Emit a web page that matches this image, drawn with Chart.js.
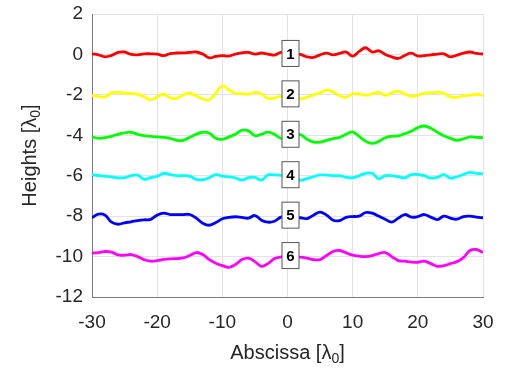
<!DOCTYPE html>
<html>
<head>
<meta charset="utf-8">
<script src="https://cdn.jsdelivr.net/npm/chart.js@4"></script>
<style>
  html, body { margin: 0; padding: 0; background: #fff; }
  #wrap { width: 506px; height: 370px; }
</style>
</head>
<body>
<div id="wrap"><canvas id="profiles"></canvas></div>
<script>
// abscissa samples, in units of lambda0
const abscissa = [];
for (let x = -30; x <= 30; x++) abscissa.push(x);

const xTicks = [-30, -20, -10, 0, 10, 20, 30];
const yTicks = [-12, -10, -8, -6, -4, -2, 0, 2];
const profileNames = ["1", "2", "3", "4", "5", "6"];
const baselines = [0, -2, -4, -6, -8, -10];

const profile1 = [0.03, -0.02, -0.12, -0.05, 0.1, 0.12, 0.0, -0.02, 0.03, 0.03, 0.02,
  -0.06, 0.04, 0.07, 0.08, 0.1, 0.12, 0.02, -0.17, -0.1, -0.06,
  -0.08, 0.02, 0.08, 0.1, 0.02, 0.07, 0.02, -0.03, 0.1, 0.05,
  0.02, 0.0, -0.12, -0.15, -0.02, 0.06, -0.02, 0.05, 0.12, -0.08,
  0.15, 0.33, 0.12, 0.18, 0.0, -0.12, -0.2, -0.05, 0.06, -0.08,
  -0.06, -0.02, 0.02, 0.03, -0.12, -0.03, 0.06, 0.12, 0.05, 0.02];

const profile2 = [-2.03, -2.08, -2.1, -1.9, -1.88, -1.91, -1.93, -1.96, -2.1, -2.25, -2.1,
  -1.97, -2.15, -2.18, -2.0, -1.92, -2.05, -2.2, -2.25, -1.9, -1.55,
  -1.75, -1.92, -1.94, -1.96, -1.88, -1.95, -2.18, -2.15, -2.08, -2.05,
  -2.05, -2.2, -2.12, -2.0, -1.9, -1.75, -1.85, -2.05, -2.12, -1.95,
  -1.95, -2.02, -1.95, -1.88, -2.03, -1.9, -1.82, -1.95, -2.08, -2.02,
  -1.92, -1.9, -1.88, -1.92, -2.1, -2.12, -2.04, -2.02, -1.97, -2.03];

const profile3 = [-4.08, -4.15, -4.12, -4.05, -3.95, -3.88, -3.85, -3.95, -4.02, -4.05, -4.08,
  -4.1, -4.15, -4.25, -4.25, -4.1, -3.95, -3.85, -3.9, -4.15, -4.2,
  -4.08, -3.95, -3.75, -3.78, -4.02, -3.95, -3.84, -3.95, -4.15, -4.1,
  -4.05, -3.97, -4.2, -4.34, -4.34, -4.25, -4.16, -4.1, -3.95, -3.83,
  -4.05, -4.3, -4.4, -4.3, -4.12, -4.05, -4.03, -3.92, -3.8, -3.62,
  -3.54, -3.65, -3.85, -4.02, -4.15, -4.25, -4.18, -4.08, -4.1, -4.12];

const profile4 = [-5.95, -5.99, -6.02, -6.06, -6.1, -6.1, -6.0, -5.97, -6.18, -6.1, -6.03,
  -5.88, -5.94, -6.0, -6.0, -6.02, -6.18, -6.2, -6.1, -5.95, -6.02,
  -6.06, -6.1, -6.22, -6.1, -6.08, -6.22, -5.96, -5.96, -5.98, -6.05,
  -6.15, -6.23, -6.14, -6.05, -5.96, -5.97, -6.0, -6.0, -6.08, -6.1,
  -6.0, -5.88, -5.88, -6.15, -6.0, -6.0, -6.05, -6.1, -5.95, -5.94,
  -6.0, -6.12, -6.08, -5.95, -6.12, -6.05, -5.94, -5.84, -5.88, -5.9];

const profile5 = [-8.08, -7.9, -7.95, -8.3, -8.4, -8.33, -8.28, -8.22, -8.18, -8.16, -7.95,
  -7.85, -7.92, -7.92, -7.92, -7.92, -8.1, -8.35, -8.45, -8.32, -8.13,
  -8.06, -8.03, -8.06, -8.1, -7.97, -8.2, -8.3, -8.25, -8.05, -8.0,
  -8.05, -8.08, -8.12, -7.95, -7.8, -7.95, -8.2, -8.22, -8.06, -8.02,
  -8.0, -7.82, -7.85, -8.0, -8.15, -8.3, -8.1, -7.92, -8.05, -8.02,
  -7.92, -8.05, -8.17, -8.0, -8.1, -8.15, -8.02, -8.0, -8.05, -8.08];

const profile6 = [-9.83, -9.8, -9.75, -9.78, -9.92, -9.93, -9.9, -10.0, -10.15, -10.23, -10.2,
  -10.14, -10.11, -10.1, -10.07, -9.95, -9.8, -9.9, -10.15, -10.33, -10.45,
  -10.53, -10.4, -10.15, -10.08, -10.25, -10.48, -10.35, -10.1, -10.02, -10.02,
  -10.03, -10.03, -10.08, -10.15, -10.15, -9.95, -9.75, -9.7, -9.82, -9.93,
  -9.98, -10.0, -9.95, -9.85, -9.8, -10.0, -10.2, -10.23, -10.27, -10.28,
  -10.23, -10.35, -10.48, -10.45, -10.35, -10.25, -10.05, -9.7, -9.65, -9.8];

const profiles = [profile1, profile2, profile3, profile4, profile5, profile6];
const colors = ["#ff0000", "#ffff00", "#00ff00", "#00ffff", "#0000ff", "#ff00ff"];

const FONT = "'Liberation Sans', Arial, sans-serif";

// draws the axis titles (with subscript) and the numbered boxes at x = 0
const annotate = {
  id: "annotate",
  afterDatasetsDraw(chart) {
    const ctx = chart.ctx;
    const xs = chart.scales.x, ys = chart.scales.y;
    ctx.save();

    baselines.forEach((b, i) => {
      const cx = xs.getPixelForValue(0) + 3;
      const cy = ys.getPixelForValue(b) - 1;
      ctx.fillStyle = "#fff";
      ctx.fillRect(cx - 8.5, cy - 13, 17, 26);
      ctx.strokeStyle = "#555";
      ctx.lineWidth = 1;
      ctx.strokeRect(cx - 8.5, cy - 13, 17, 26);
      ctx.fillStyle = "#000";
      ctx.font = "bold 15px " + FONT;
      ctx.textAlign = "center";
      ctx.textBaseline = "middle";
      ctx.fillText(profileNames[i], cx, cy + 1);
    });

    function subTitle(main, x, y) {
      ctx.font = "20px " + FONT;
      const w1 = ctx.measureText(main).width;
      ctx.font = "14px " + FONT;
      const w2 = ctx.measureText("0").width;
      ctx.font = "20px " + FONT;
      const w3 = ctx.measureText("]").width;
      let left = x - (w1 + w2 + w3) / 2;
      ctx.textAlign = "left";
      ctx.textBaseline = "middle";
      ctx.fillStyle = "#262626";
      ctx.fillText(main, left, y);
      ctx.font = "14px " + FONT;
      ctx.fillText("0", left + w1, y + 6);
      ctx.font = "20px " + FONT;
      ctx.fillText("]", left + w1 + w2, y);
    }

    subTitle("Abscissa [\u03bb", (xs.left + xs.right) / 2, 353);
    ctx.translate(30, (ys.top + ys.bottom) / 2);
    ctx.rotate(-Math.PI / 2);
    subTitle("Heights [\u03bb", 0, 0);
    ctx.restore();
  }
};

// keep the plot box fixed: labels may overhang the padding
function noOverhang(s) {
  s.paddingTop = 0;
  s.paddingBottom = 0;
  s.paddingLeft = 0;
  s.paddingRight = 0;
}

new Chart(document.getElementById("profiles"), {
  type: "line",
  data: {
    labels: abscissa,
    datasets: profiles.map((p, i) => ({
      label: profileNames[i],
      data: p.map((v, k) => ({ x: abscissa[k], y: v })),
      borderColor: colors[i],
      borderWidth: 2.8,
      pointRadius: 0,
      tension: 0.4,
      fill: false
    }))
  },
  options: {
    responsive: true,
    maintainAspectRatio: false,
    animation: false,
    layout: { padding: { left: 0, right: 23, top: 14, bottom: 0 } },
    plugins: { legend: { display: false }, tooltip: { enabled: false } },
    scales: {
      x: {
        type: "linear",
        min: -30,
        max: 30,
        afterBuildTicks: s => { s.ticks = xTicks.map(v => ({ value: v })); },
        afterFit: s => { s.height = 73; noOverhang(s); },
        grid: { color: "#e3e3e3", drawTicks: false },
        border: { color: "#7a7a7a", width: 1 },
        ticks: { color: "#262626", font: { family: FONT, size: 19 }, padding: 14, maxRotation: 0 }
      },
      y: {
        min: -12,
        max: 2,
        afterBuildTicks: s => { s.ticks = yTicks.map(v => ({ value: v })); },
        afterFit: s => { s.width = 92; noOverhang(s); },
        grid: { color: "#e3e3e3", drawTicks: false },
        border: { color: "#7a7a7a", width: 1 },
        ticks: { color: "#262626", font: { family: FONT, size: 19 }, padding: 9 }
      }
    }
  },
  plugins: [annotate]
});
</script>
</body>
</html>
